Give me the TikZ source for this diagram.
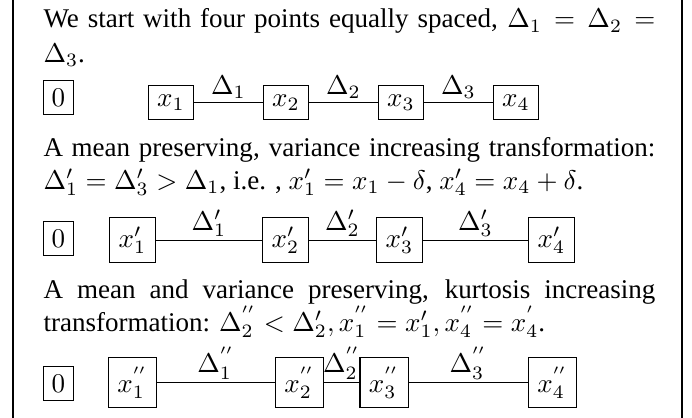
\documentclass[tikz,border=0pt]{standalone}
\usepackage[no-math]{fontspec}
\setmainfont{Liberation Serif}
\newcommand{\fullline}[1]{\makebox[226.4pt][s]{#1}}
\tikzset{
  txt/.style={anchor=base west, inner sep=0pt, font=\fontsize{10}{12}\selectfont},
  ptbox/.style={draw, anchor=base},
  zerobox/.style={draw, anchor=base, inner sep=3pt},
  gap/.style={midway, above, inner sep=1pt}
}
\begin{document}
\begin{tikzpicture}[x=0.37pt, y=-0.37pt]
    \useasboundingbox (0,0) rectangle (692,418);
    % frame
    \draw (13,0) -- (13,418);
    \draw (682,0) -- (682,418);
    % equal spacing
    \node[txt] (l1) at (43,28) {\fullline{We start with four points equally spaced, $\Delta_1 = \Delta_2 =$}};
    \node[txt] (l2) at (43,62) {$\Delta_3$.};
    \node[zerobox] (a0) at (58.5,106) {$0$};
    \node[ptbox] (a1) at (171,106) {$x_1$};
    \node[ptbox] (a2) at (286,106) {$x_2$};
    \node[ptbox] (a3) at (401,106) {$x_3$};
    \node[ptbox] (a4) at (516,106) {$x_4$};
    \draw (a1) -- node[gap] {$\Delta_1$} (a2);
    \draw (a2) -- node[gap] {$\Delta_2$} (a3);
    \draw (a3) -- node[gap] {$\Delta_3$} (a4);
    % variance increasing
    \node[txt] (l3) at (43,156) {\fullline{A mean preserving, variance increasing transformation:}};
    \node[txt] (l4) at (43,189) {$\Delta'_1 = \Delta'_3 > \Delta_1$, i.e. , $x'_1 = x_1 - \delta$, $x'_4 = x_4 + \delta$.};
    \node[zerobox] (b0) at (58.5,247) {$0$};
    \node[ptbox] (b1) at (132.5,247) {$x'_1$};
    \node[ptbox] (b2) at (285.5,247) {$x'_2$};
    \node[ptbox] (b3) at (399.5,247) {$x'_3$};
    \node[ptbox] (b4) at (551.5,247) {$x'_4$};
    \draw (b1) -- node[gap] {$\Delta'_1$} (b2);
    \draw (b2) -- node[gap] {$\Delta'_2$} (b3);
    \draw (b3) -- node[gap] {$\Delta'_3$} (b4);
    % kurtosis increasing
    \node[txt] (l5) at (43,298) {\fullline{A mean and variance preserving, kurtosis increasing}};
    \node[txt] (l6) at (43,331) {transformation: $\Delta^{''}_2 < \Delta'_2, x^{''}_1 = x'_1, x^{''}_4 = x^{'}_4$.};
    \node[zerobox] (c0) at (58.5,392) {$0$};
    \node[ptbox] (c1) at (132.5,392) {$x^{''}_1$};
    \node[ptbox] (c2) at (299.5,392) {$x^{''}_2$};
    \node[ptbox] (c3) at (384,392) {$x^{''}_3$};
    \node[ptbox] (c4) at (552.5,392) {$x^{''}_4$};
    \draw (c1) -- node[gap] {$\Delta^{''}_1$} (c2);
    \draw (c2) -- node[gap] {$\Delta^{''}_2$} (c3);
    \draw (c3) -- node[gap] {$\Delta^{''}_3$} (c4);
\end{tikzpicture}
\end{document}
